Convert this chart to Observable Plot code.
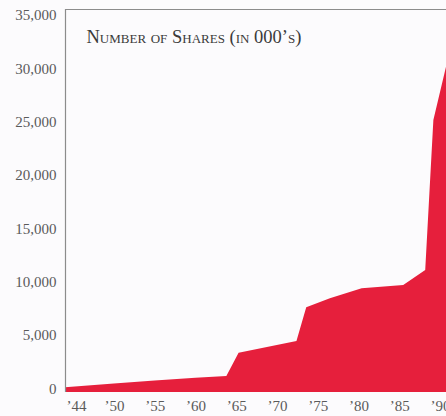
<!DOCTYPE html>
<html>
<head>
<meta charset="utf-8">
<script src="https://cdn.jsdelivr.net/npm/d3@7"></script>
<script src="https://cdn.jsdelivr.net/npm/@observablehq/plot@0.6"></script>
<style>
  html, body { margin: 0; padding: 0; background: #fcfbfd; }
  #chart { width: 446px; height: 416px; overflow: hidden; }
</style>
</head>
<body>
<div id="chart"></div>
<script>
const years  = [1944, 1950, 1955, 1960, 1963.8, 1965.3, 1972.4, 1973.6, 1976.5, 1980.4, 1985.5, 1988.2, 1989.2, 1990.75];
const shares = [100, 450, 720, 980, 1150, 3340, 4430, 7590, 8450, 9375, 9680, 11090, 25150, 30150];
const yTicks = [0, 5000, 10000, 15000, 20000, 25000, 30000, 35000];
const xTicks = [1950, 1955, 1960, 1965, 1970, 1975, 1980, 1985, 1990];
const firstXTick = [1944];
const title = "Number of Shares (in 000’s)";

const xDomain = [1944, 1990.75];
const yDomain = [-350, 35560];

const data = years.map((y, i) => ({year: y, shares: shares[i]}));
const fmtYear = d => "’" + String(d).slice(2);

const plot = Plot.plot({
  width: 446,
  height: 416,
  marginLeft: 65,
  marginRight: 0,
  marginTop: 9,
  marginBottom: 24,
  style: {background: "#fcfbfd", fontFamily: "'Liberation Serif', 'DejaVu Serif', serif", fontSize: "15px", color: "#5a5a5a"},
  x: {domain: xDomain},
  y: {domain: yDomain},
  marks: [
    Plot.areaY(data, {x: "year", y: "shares", y1: yDomain[0], fill: "#e61f3c", curve: "linear"}),
    Plot.ruleX([xDomain[0]], {stroke: "#8c8c8c", strokeWidth: 1.2}),
    Plot.ruleY([yDomain[1]], {stroke: "#8c8c8c", strokeWidth: 1.2}),
    Plot.axisY(yTicks, {tickSize: 0, tickPadding: 9, tickFormat: d => d3.format(",")(d), fill: "#5a5a5a", label: null}),
    Plot.axisX(xTicks, {tickSize: 0, tickPadding: 8, tickFormat: fmtYear, fill: "#5a5a5a", label: null}),
    Plot.axisX(firstXTick, {tickSize: 0, tickPadding: 8, tickFormat: fmtYear, fill: "#5a5a5a", dx: 11, label: null}),
    Plot.text([title], {frameAnchor: "top-left", dx: 21, dy: 20, textAnchor: "start", fontSize: 18.5, fontVariant: "small-caps", fill: "#3a3a3a"})
  ]
});
document.getElementById("chart").appendChild(plot);
</script>
</body>
</html>
